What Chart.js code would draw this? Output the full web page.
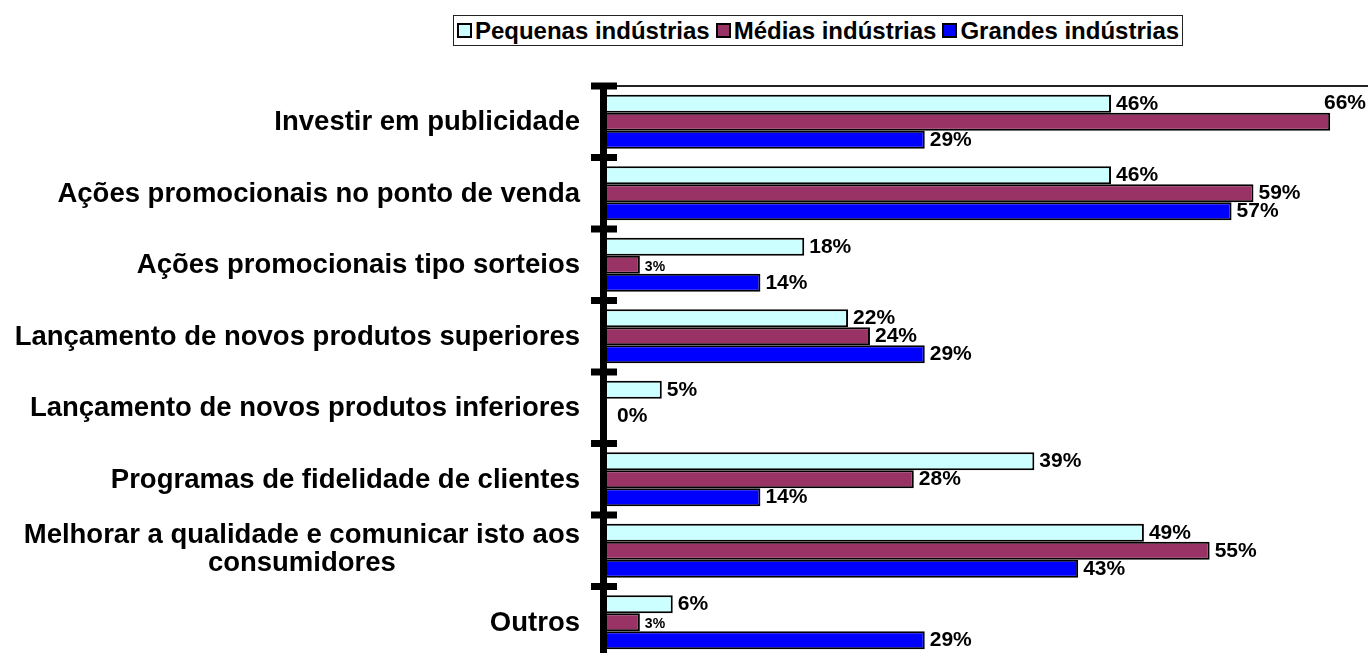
<!DOCTYPE html>
<html>
<head>
<meta charset="utf-8">
<script src="https://cdn.jsdelivr.net/npm/chart.js@4.4.1/dist/chart.umd.min.js"></script>
<style>
  html, body { margin: 0; padding: 0; background: #fff; overflow: hidden; }
  #wrap { position: relative; width: 1368px; height: 653px; overflow: hidden; }
  #chart { position: absolute; left: 0; top: 0; }
  #legend {
    position: absolute; left: 453px; top: 15px; width: 728px; height: 29px;
    border: 1.5px solid #222; display: flex; align-items: center; justify-content: center;
    font: bold 24px "Liberation Sans", Arial, sans-serif; color: #000; box-sizing: content-box;
    white-space: nowrap;
  }
  #legend .item { display: flex; align-items: center; margin: 0 3px; flex-shrink: 0; }
  #legend .sw { width: 11px; height: 11px; border: 2px solid #000; margin-right: 3px; flex-shrink: 0; }
</style>
</head>
<body>
<div id="wrap">
  <div id="legend"></div>
  <canvas id="chart" width="1374" height="662"></canvas>
</div>
<script>
const categories = [
  'Investir em publicidade',
  'Ações promocionais no ponto de venda',
  'Ações promocionais tipo sorteios',
  'Lançamento de novos produtos superiores',
  'Lançamento de novos produtos inferiores',
  'Programas de fidelidade de clientes',
  ['Melhorar a qualidade e comunicar isto aos', 'consumidores'],
  'Outros'
];
const seriesNames = ['Pequenas indústrias', 'Médias indústrias', 'Grandes indústrias'];
const pequenas = [46, 46, 18, 22, 5, 39, 49, 6];
const medias = [66, 59, 3, 24, 0, 28, 55, 3];
const grandes = [29, 57, 14, 29, 0, 14, 43, 29];
const colors = ['#CCFFFF', '#993366', '#0000FF'];

const FONT = '"Liberation Sans", Arial, sans-serif';

// thick y axis with tick marks crossing it
const axisPlugin = {
  id: 'axisMarks',
  afterDatasetsDraw(chart) {
    const { ctx, chartArea } = chart;
    const y = chart.scales.y;
    ctx.save();
    ctx.fillStyle = '#000';
    ctx.fillRect(chartArea.left - 7, chartArea.top, 7, chartArea.bottom - chartArea.top);
    for (let i = 0; i <= categories.length; i++) {
      const py = y.getPixelForValue(i - 0.5);
      ctx.fillRect(chartArea.left - 16, py - 3.5, 26, 7);
    }
    ctx.restore();
  }
};

// category names, right aligned; wrapped names centred on their own block
const categoryPlugin = {
  id: 'categoryNames',
  afterDraw(chart) {
    const { ctx, chartArea } = chart;
    const y = chart.scales.y;
    const right = chartArea.left - 27;
    ctx.save();
    ctx.fillStyle = '#000';
    ctx.font = 'bold 27.5px ' + FONT;
    ctx.textBaseline = 'middle';
    categories.forEach((name, i) => {
      const cy = y.getPixelForValue(i);
      const lines = Array.isArray(name) ? name : [name];
      const w = Math.max(...lines.map(l => ctx.measureText(l).width));
      const lh = 28;
      const top = cy - (lines.length - 1) * lh / 2 - (lines.length > 1 ? 2 : 0);
      ctx.textAlign = 'center';
      lines.forEach((l, k) => ctx.fillText(l, right - w / 2, top + k * lh + 1));
    });
    ctx.restore();
  }
};

// percentage labels at the end of each bar
const valuePlugin = {
  id: 'barValues',
  afterDraw(chart) {
    const ctx = chart.ctx;
    ctx.save();
    ctx.fillStyle = '#000';
    ctx.textBaseline = 'middle';
    const zeroDone = {};
    chart.data.datasets.forEach((ds, di) => {
      const meta = chart.getDatasetMeta(di);
      meta.data.forEach((bar, i) => {
        const v = ds.data[i];
        if (v === null || v === undefined) return;
        if (v === 0) {
          if (zeroDone[i]) return;
          zeroDone[i] = true;
        }
        const small = v > 0 && v < 5;
        ctx.font = 'bold ' + (small ? 14 : 21) + 'px ' + FONT;
        const txt = v + '%';
        const w = ctx.measureText(txt).width;
        let x = bar.x + (v === 0 ? 10 : 5);
        let yy = bar.y + (small ? 2 : 0) + (v === 0 ? 8 : 0);
        ctx.textAlign = 'left';
        if (x + w > 1366) {
          ctx.textAlign = 'right';
          x = 1366;
          yy = bar.y - bar.height - 1;
        }
        ctx.fillText(txt, x, yy);
      });
    });
    ctx.restore();
  }
};

const datasets = [pequenas, medias, grandes].map((d, k) => ({
  label: seriesNames[k],
  data: d,
  backgroundColor: colors[k],
  borderColor: '#000',
  borderWidth: 2,
  categoryPercentage: 0.756,
  barPercentage: 1.0
}));

// legend box above the plot
const legend = document.getElementById('legend');
datasets.forEach(ds => {
  const item = document.createElement('div');
  item.className = 'item';
  const sw = document.createElement('div');
  sw.className = 'sw';
  sw.style.background = ds.backgroundColor;
  const t = document.createElement('span');
  t.textContent = ds.label;
  item.appendChild(sw);
  item.appendChild(t);
  legend.appendChild(item);
});

new Chart(document.getElementById('chart'), {
  type: 'bar',
  data: { labels: categories, datasets },
  options: {
    indexAxis: 'y',
    responsive: false,
    animation: false,
    layout: { padding: { left: 607, top: 78, right: 0, bottom: 4 } },
    scales: {
      x: {
        position: 'top',
        min: 0,
        max: 70,
        ticks: { display: false },
        grid: { display: false },
        border: { display: true, color: '#222', width: 2 }
      },
      y: {
        display: false,
        grid: { display: false }
      }
    },
    plugins: {
      legend: { display: false },
      tooltip: { enabled: false }
    }
  },
  plugins: [axisPlugin, categoryPlugin, valuePlugin]
});
</script>
</body>
</html>
